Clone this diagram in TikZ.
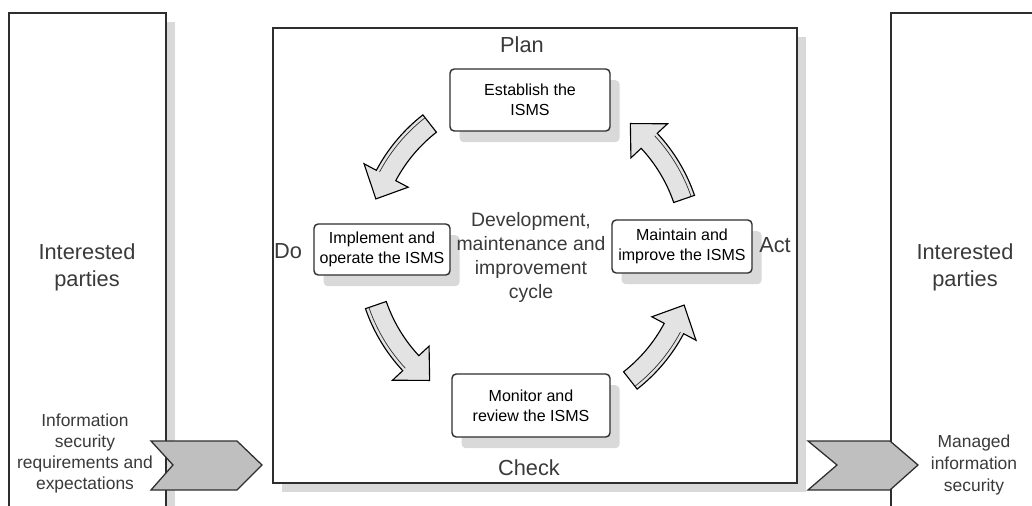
\documentclass[tikz,border=0pt]{standalone}
\usepackage{fontspec}
\setmainfont{Liberation Sans}
\usetikzlibrary{positioning, calc, shadows}

\definecolor{txtgray}{HTML}{3A3A3A}
\definecolor{linegray}{HTML}{2E2E2E}
\definecolor{shade}{HTML}{D9D9D9}

\begin{document}
\begin{tikzpicture}[
  every node/.style={font=\fontsize{11.4}{14.2}\selectfont},
  frame/.style={draw=linegray, line width=1.1pt, fill=white, inner sep=0pt,
                drop shadow={shadow xshift=0.22cm, shadow yshift=-0.22cm,
                             fill=shade, opacity=1}},
  party/.style={frame, minimum width=3.925cm, minimum height=13.2cm},
  stage/.style={draw=linegray, line width=1pt, rounded corners=3pt, fill=white,
                align=center, inner sep=0pt,
                drop shadow={shadow xshift=0.24cm, shadow yshift=-0.28cm,
                             fill=shade, opacity=1}},
  phase/.style={font=\fontsize{15.5}{19.2}\selectfont, text=txtgray, align=center},
  midtxt/.style={font=\fontsize{13.8}{16.9}\selectfont, text=txtgray, align=center},
  note/.style={font=\fontsize{12.4}{14.9}\selectfont, text=txtgray, align=center},
  chev/.style={draw=linegray, line width=0.9pt, fill=gray!50, line join=miter},
  cyc/.style={draw=black, line width=0.8pt, fill=gray!22, line join=miter},
]
\useasboundingbox (0,0) rectangle (25.8,-12.65);
\clip (0,0) rectangle (25.8,-12.65);

% --- interested parties, left and right
\node[party] (lpart) at (2.1875,-6.925) {};
\node[party, minimum width=3.7cm] (rpart) at (24.125,-6.925) {};

% --- PDCA frame
\node[frame, minimum width=13.1cm, minimum height=11.375cm] (pdca) at (13.375,-6.3875) {};

% --- the four stages
\node[stage, minimum width=4cm,    minimum height=1.55cm]  (plan)  at (13.25,-2.5)    {Establish the\\ISMS};
\node[stage, minimum width=3.4cm,  minimum height=1.275cm] (do)    at (9.55,-6.2375)  {Implement and\\operate the ISMS};
\node[stage, minimum width=3.5cm,  minimum height=1.325cm] (act)   at (17.05,-6.1625) {Maintain and\\improve the ISMS};
\node[stage, minimum width=3.95cm, minimum height=1.575cm] (check) at (13.275,-10.1375) {Monitor and\\review the ISMS};

\node[phase] (plantxt)  at (13.05,-1.125) {Plan};
\node[phase] (dotxt)    at (7.2,-6.275)   {Do};
\node[phase] (acttxt)   at (19.375,-6.125) {Act};
\node[phase] (checktxt) at (13.225,-11.7) {Check};

\node[midtxt] (dev) at (13.275,-6.44) {Development,\\maintenance and\\improvement\\cycle};

% --- cycle arrows round the hub
\coordinate (hub) at (13.25,-6.3);
\foreach \a in {19,128,199,308} {
  \draw[cyc] ($(hub)+(\a:4.35)$) arc[start angle=\a, end angle=\a+24, radius=4.35]
    -- ($(hub)+(\a+24:4.7)$) -- ($(hub)+(\a+33:4.075)$) -- ($(hub)+(\a+24:3.45)$)
    -- ($(hub)+(\a+24:3.8)$) arc[start angle=\a+24, end angle=\a, radius=3.8] -- cycle;
  \draw[linegray, line width=0.5pt] ($(hub)+(\a:4.26)$) arc[start angle=\a, end angle=\a+24, radius=4.26];
}

% --- in and out chevrons
\coordinate (inflow) at (3.775,-11.025);
\coordinate (outflow) at (20.2,-11.025);
\draw[chev] (inflow) -- ++(2.15,0) -- ++(0.625,-0.6) -- ++(-0.625,-0.625)
  -- ++(-2.15,0) -- ++(0.55,0.625) -- cycle;
\draw[chev] (outflow) -- ++(2.05,0) -- ++(0.7,-0.6) -- ++(-0.7,-0.625)
  -- ++(-2.05,0) -- ++(0.725,0.625) -- cycle;

% --- side texts
\node[phase] (ltxt) at (2.175,-6.675) {Interested\\parties};
\node[phase] (rtxt) at (24.125,-6.675) {Interested\\parties};
\node[note] (reqs) at (2.125,-11.34) {Information\\security\\requirements and\\expectations};
\node[note, font=\fontsize{12.4}{15.6}\selectfont] (managed) at (24.35,-11.625) {Managed\\information\\security};
\end{tikzpicture}
\end{document}
